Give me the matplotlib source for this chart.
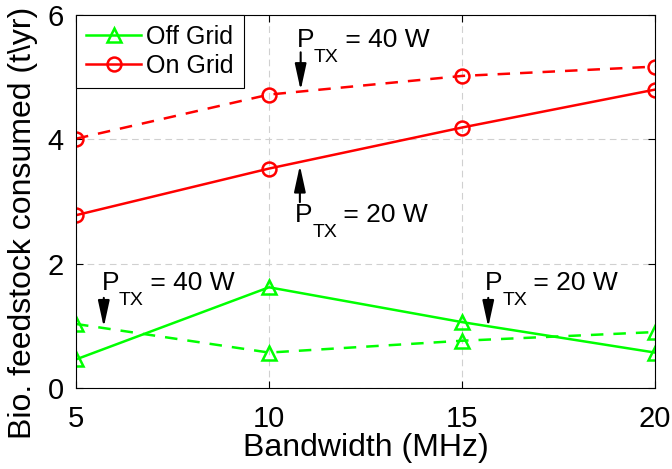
import matplotlib
matplotlib.use('Agg')
import matplotlib.pyplot as plt

plt.rcParams['font.family'] = ['Liberation Sans', 'DejaVu Sans']

bandwidth = [5, 10, 15, 20]
on_grid_20w = [2.78, 3.53, 4.19, 4.80]
on_grid_40w = [4.01, 4.72, 5.02, 5.17]
off_grid_20w = [0.46, 1.62, 1.06, 0.57]
off_grid_40w = [1.03, 0.57, 0.76, 0.90]

green = '#00ff00'
red = '#ff0000'

fig = plt.figure(figsize=(6.72, 4.69), dpi=100)
ax = fig.add_axes([0.1131, 0.1727, 0.8616, 0.7953])

style = dict(lw=1.8, ms=10, mfc='none', mew=1.8)
ax.plot(bandwidth, off_grid_20w, '-', color=green, marker='^', label='Off Grid', **style)
ax.plot(bandwidth, on_grid_20w, '-', color=red, marker='o', label='On Grid', **style)
ax.plot(bandwidth, off_grid_40w, '--', color=green, marker='^', dashes=(5, 4), **style)
ax.plot(bandwidth, on_grid_40w, '--', color=red, marker='o', dashes=(5, 4), **style)

ax.set_xlim(5, 20)
ax.set_ylim(0, 6)
ax.set_xticks([5, 10, 15, 20])
ax.set_yticks([0, 2, 4, 6])
ax.tick_params(direction='in', top=True, right=True, labelsize=21, length=5)
ax.tick_params(axis='x', pad=12.5)
ax.tick_params(axis='y', pad=9)
ax.grid(True, ls=(0, (6, 4)), color='#d0d0d0', lw=0.8)
for s in ax.spines.values():
    s.set_linewidth(0.8)

ax.set_xlabel('Bandwidth (MHz)', fontsize=23, labelpad=0)
ax.set_ylabel('Bio. feedstock consumed (t\\yr)', fontsize=23)
ax.yaxis.set_label_coords(-0.066, 0.442)

leg = ax.legend(loc='upper left', fontsize=18, frameon=True, fancybox=False,
                edgecolor='black', borderaxespad=0, handlelength=2.2,
                handletextpad=0.2, labelspacing=0.2, borderpad=0.4)
leg.get_frame().set_linewidth(0.8)
leg.get_frame().set_alpha(1)


def ptx_label(x, y, watts):
    # P with a low-hanging TX subscript, then "= .. W"
    ax.annotate('P', xy=(x, y), xytext=(0, 0), textcoords='offset points',
                fontsize=19, va='baseline', ha='left')
    ax.annotate('TX', xy=(x, y), xytext=(12.3, -1.5), textcoords='offset points',
                fontsize=14, va='top', ha='left')
    ax.annotate(' = %d W' % watts, xy=(x, y), xytext=(29.5, 0),
                textcoords='offset points', fontsize=19, va='baseline', ha='left')


def arrow(x, y_from, y_to):
    ax.annotate('', xy=(x, y_to), xytext=(x, y_from),
                arrowprops=dict(arrowstyle='-|>,head_length=1.6,head_width=0.35',
                                color='black', lw=1.5, mutation_scale=10,
                                shrinkA=0, shrinkB=0))


arrow(10.82, 5.40, 4.79)
ptx_label(10.72, 5.48, 40)

arrow(10.80, 2.99, 3.58)
ptx_label(10.68, 2.67, 20)

arrow(5.72, 1.45, 0.98)
ptx_label(5.67, 1.58, 40)

arrow(15.68, 1.45, 0.98)
ptx_label(15.60, 1.58, 20)

fig.savefig('out.png', dpi=100)
